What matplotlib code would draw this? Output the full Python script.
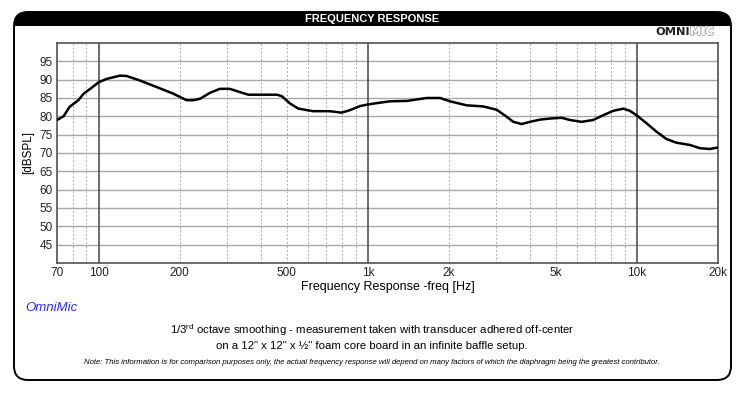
import matplotlib
matplotlib.use("Agg")
import matplotlib.pyplot as plt
import matplotlib.patheffects as pe
from matplotlib.patches import FancyBboxPatch, Rectangle
from matplotlib.ticker import FixedLocator, NullFormatter

plt.rcParams['font.family'] = ['Liberation Sans', 'DejaVu Sans']
plt.rcParams['mathtext.fontset'] = 'custom'
plt.rcParams['mathtext.rm'] = 'Liberation Sans'

# data (Hz, dBSPL)
freq = [70, 74, 78, 84, 88, 93, 100, 107, 120, 127, 142, 164, 189, 212, 225,
        238, 259, 282, 307, 335, 360, 398, 459, 479, 514, 552, 627, 723, 799,
        859, 935, 995, 1079, 1209, 1395, 1654, 1854, 2020, 2330, 2685, 3010,
        3279, 3470, 3728, 4003, 4359, 4748, 5248, 5635, 6228, 6876, 7490,
        8162, 8891, 9414, 9967, 10856, 11826, 12880, 14030, 15720, 17130,
        18660, 20000]
spl = [79.0, 80.0, 82.6, 84.4, 86.2, 87.5, 89.3, 90.2, 91.1, 91.0, 89.8, 88.0,
       86.2, 84.4, 84.4, 84.8, 86.4, 87.5, 87.5, 86.6, 85.9, 85.9, 85.9, 85.5,
       83.5, 82.1, 81.4, 81.4, 81.0, 81.7, 82.8, 83.2, 83.6, 84.1, 84.2, 85.0,
       85.0, 84.1, 83.0, 82.7, 81.8, 79.9, 78.5, 77.9, 78.5, 79.1, 79.4, 79.6,
       79.0, 78.5, 79.0, 80.3, 81.5, 82.1, 81.5, 80.3, 78.1, 75.8, 73.8, 72.8,
       72.2, 71.3, 71.1, 71.5]

xticks = [70, 100, 200, 500, 1000, 2000, 5000, 10000, 20000]
xticklabels = ['70', '100', '200', '500', '1k', '2k', '5k', '10k', '20k']
major_lines = [100, 1000, 10000]
minor_lines = [80, 90, 200, 300, 400, 500, 600, 700, 800, 900,
               2000, 3000, 4000, 5000, 6000, 7000, 8000, 9000]
yticks = [45, 50, 55, 60, 65, 70, 75, 80, 85, 90, 95]

W, H = 743, 394
fig = plt.figure(figsize=(W / 100, H / 100), dpi=100)

# background frame drawn in pixel coords
bg = fig.add_axes([0, 0, 1, 1], zorder=0)
bg.set_xlim(0, W)
bg.set_ylim(H, 0)
bg.axis('off')
box = dict(boxstyle="round,pad=0,rounding_size=14")
bg.add_patch(FancyBboxPatch((14, 12), 717, 368, fc='white', ec='none', **box))
bg.add_patch(FancyBboxPatch((14, 12), 717, 26, fc='black', ec='none', **box))
bg.add_patch(Rectangle((14, 26), 717, 14, fc='white', ec='none'))
bg.add_patch(FancyBboxPatch((14, 12), 717, 368, fc='none', ec='black', lw=1.4, **box))
bg.text(372, 19, 'FREQUENCY RESPONSE', color='white', fontsize=8, fontweight='bold',
        ha='center', va='center')
bg.text(690, 32, 'OMNI', color='#222222', fontsize=8.2, fontweight='bold',
        family='DejaVu Sans', ha='right', va='center')
mic = bg.text(690, 32, 'MIC', color='white', fontsize=8.2, fontweight='bold',
              family='DejaVu Sans', ha='left', va='center')
mic.set_path_effects([pe.withStroke(linewidth=1.0, foreground='#888888'), pe.Normal()])
bg.text(25, 308, 'OmniMic', color='#2a2aff', fontsize=9.5, style='italic', ha='left', va='center')
bg.text(372, 330, '1/3$^{\\mathrm{rd}}$ octave smoothing - measurement taken with transducer adhered off-center',
        fontsize=8.2, ha='center', va='center')
bg.text(372, 346, 'on a 12" x 12" x \u00bd" foam core board in an infinite baffle setup.',
        fontsize=8.2, ha='center', va='center')
bg.text(372, 363, 'Note: This information is for comparison purposes only, the actual frequency response '
        'will depend on many factors of which the diaphragm being the greatest contributor.',
        fontsize=5.6, style='italic', ha='center', va='center')

ax = fig.add_axes([57 / W, 1 - 263 / H, 661 / W, 220 / H], zorder=1)
ax.set_xscale('log')
ax.set_xlim(70, 20000)
ax.set_ylim(40, 100)

for y in yticks:
    ax.axhline(y, color='#a8a8a8', lw=1.0, zorder=1)
for x in minor_lines:
    ax.axvline(x, color='#a8a8a8', lw=0.7, ls=(0, (2, 2)), zorder=1)
for x in major_lines:
    ax.axvline(x, color='#444444', lw=1.1, zorder=1)

ax.plot(freq, spl, color='black', lw=1.8, zorder=3)

ax.xaxis.set_major_locator(FixedLocator(xticks))
ax.set_xticklabels(xticklabels)
ax.xaxis.set_minor_formatter(NullFormatter())
ax.xaxis.set_minor_locator(FixedLocator([]))
ax.set_yticks(yticks)
ax.tick_params(axis='both', length=0, labelsize=8.5, pad=3, colors='#222222')
for s in ax.spines.values():
    s.set_color('#444444')
    s.set_linewidth(1.1)

ax.set_ylabel('[dBSPL]', fontsize=8.5, labelpad=4)
ax.set_xlabel('Frequency Response -freq [Hz]', fontsize=9, labelpad=1)

fig.savefig('out.png', dpi=100)
